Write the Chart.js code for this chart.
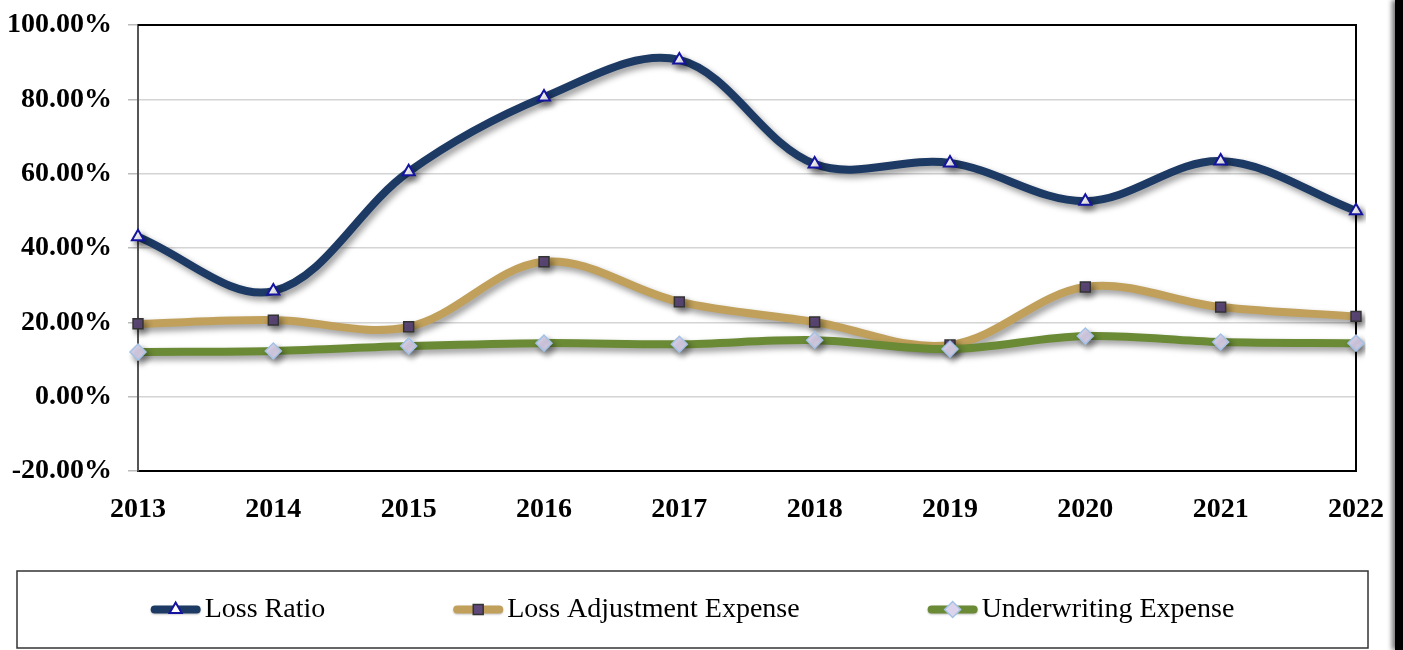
<!DOCTYPE html>
<html>
<head>
<meta charset="utf-8">
<script src="https://cdn.jsdelivr.net/npm/chart.js@4.4.1/dist/chart.umd.min.js"></script>
<style>
  body { margin: 0; background: #fff; }
  #wrap { position: relative; width: 1403px; height: 650px; }
  #edge { position: absolute; left: 1395px; top: 0; width: 8px; height: 650px; background: #000; box-shadow: -3px 0 5px rgba(0,0,0,0.55); }
</style>
</head>
<body>
<div id="wrap">
  <canvas id="chart"></canvas>
  <div id="edge"></div>
</div>
<script>
var years = ['2013', '2014', '2015', '2016', '2017', '2018', '2019', '2020', '2021', '2022'];
var lossRatio = [43.0, 28.4, 60.5, 80.6, 90.6, 62.6, 62.9, 52.6, 63.4, 50.0];
var lossAdjExpense = [19.6, 20.6, 18.8, 36.3, 25.5, 20.1, 13.9, 29.5, 24.1, 21.6];
var underwritingExpense = [12.0, 12.3, 13.6, 14.4, 14.1, 15.2, 12.8, 16.3, 14.7, 14.4];
var yTicks = [-20, 0, 20, 40, 60, 80, 100];

var serif = "'Liberation Serif', 'Times New Roman', serif";

// drop shadow under every series, like the office chart
var shadowPlugin = {
  id: 'shadow',
  beforeDatasetDraw: function(chart) {
    var ctx = chart.ctx;
    ctx.save();
    ctx.shadowColor = 'rgba(0,0,0,0.4)';
    ctx.shadowBlur = 6;
    ctx.shadowOffsetX = 3;
    ctx.shadowOffsetY = 4;
  },
  afterDatasetDraw: function(chart) {
    chart.ctx.restore();
  }
};

// top/right frame of the plot area and the boxed legend below
var framePlugin = {
  id: 'frame',
  beforeDatasetsDraw: function(chart) {
    var a = chart.chartArea, ctx = chart.ctx;
    ctx.save();
    ctx.strokeStyle = '#000';
    ctx.lineWidth = 2;
    ctx.beginPath();
    ctx.moveTo(a.left, a.top);
    ctx.lineTo(a.right, a.top);
    ctx.lineTo(a.right, a.bottom);
    ctx.stroke();
    ctx.restore();
  },
  afterDraw: function(chart) {
    var ctx = chart.ctx;
    var box = { x: 17, y: 571, w: 1351, h: 77 };
    ctx.save();
    ctx.strokeStyle = '#333';
    ctx.lineWidth = 1.5;
    ctx.strokeRect(box.x, box.y, box.w, box.h);

    ctx.font = '28px ' + serif;
    ctx.textBaseline = 'middle';
    var sw = 50, gapText = 4, gapItem = 128;
    var ds = chart.data.datasets;
    var widths = ds.map(function(d) { return sw + gapText + ctx.measureText(d.label).width; });
    var total = widths.reduce(function(a, b) { return a + b; }) + gapItem * (ds.length - 1);
    var x = box.x + box.w / 2 - total / 2;
    var cy = box.y + box.h / 2;
    ds.forEach(function(d, i) {
      ctx.save();
      ctx.shadowColor = 'rgba(0,0,0,0.25)';
      ctx.shadowBlur = 2;
      ctx.shadowOffsetY = 1;
      ctx.strokeStyle = d.borderColor;
      ctx.lineWidth = 8;
      ctx.lineCap = 'round';
      ctx.beginPath();
      ctx.moveTo(x + 4, cy);
      ctx.lineTo(x + sw - 4, cy);
      ctx.stroke();
      ctx.restore();
      ctx.fillStyle = d.pointBackgroundColor;
      ctx.strokeStyle = d.pointBorderColor;
      ctx.lineWidth = d.pointBorderWidth;
      Chart.helpers.drawPoint(ctx, {
        pointStyle: d.pointStyle,
        radius: d.pointRadius,
        borderWidth: d.pointBorderWidth,
        rotation: 0
      }, x + sw / 2, cy);
      ctx.fillStyle = '#000';
      ctx.fillText(d.label, x + sw + gapText, cy);
      x += widths[i] + gapItem;
    });
    ctx.restore();
  }
};

Chart.register(shadowPlugin, framePlugin);

var ctx = document.getElementById('chart').getContext('2d');
var chart = new Chart(ctx, {
  type: 'line',
  data: {
    labels: years,
    datasets: [{
      label: 'Loss Ratio',
      data: lossRatio,
      order: 2,
      borderColor: '#1c3a64',
      backgroundColor: '#1c3a64',
      pointStyle: 'triangle',
      pointRadius: 7,
      pointBorderWidth: 2,
      pointBackgroundColor: '#ffffff',
      pointBorderColor: '#1414a0'
    }, {
      label: 'Loss Adjustment Expense',
      data: lossAdjExpense,
      order: 1,
      borderColor: '#c0a05a',
      backgroundColor: '#c0a05a',
      pointStyle: 'rect',
      pointRadius: 7,
      pointBorderWidth: 1.5,
      pointBackgroundColor: '#5f497a',
      pointBorderColor: '#333333'
    }, {
      label: 'Underwriting Expense',
      data: underwritingExpense,
      order: 0,
      borderColor: '#6a8a35',
      backgroundColor: '#6a8a35',
      pointStyle: 'rectRot',
      pointRadius: 8,
      pointBorderWidth: 1.5,
      pointBackgroundColor: '#dcd4ec',
      pointBorderColor: '#a4c2e6'
    }]
  },
  options: {
    responsive: true,
    maintainAspectRatio: false,
    animation: false,
    layout: { padding: { left: 8, right: 47, top: 25, bottom: 119 } },
    elements: {
      line: { borderWidth: 8, tension: 0.35, borderCapStyle: 'round', fill: false },
      point: { hoverRadius: 8 }
    },
    plugins: {
      legend: { display: false },
      tooltip: { enabled: false }
    },
    scales: {
      x: {
        afterFit: function(scale) {
          scale.height = 60;
          scale.paddingLeft = 0;
          scale.paddingRight = 0;
        },
        grid: { display: false, drawTicks: true, tickLength: 10, tickColor: '#bbb' },
        border: { color: '#000', width: 2 },
        ticks: {
          color: '#000',
          padding: 12,
          maxRotation: 0,
          font: { family: serif, size: 28, weight: 'bold' }
        }
      },
      y: {
        min: yTicks[0],
        max: yTicks[yTicks.length - 1],
        afterFit: function(scale) {
          scale.width = 130;
          scale.paddingTop = 0;
          scale.paddingBottom = 0;
        },
        afterBuildTicks: function(scale) {
          scale.ticks = yTicks.map(function(v) { return { value: v }; });
        },
        grid: { color: '#d4d4d4', lineWidth: 1.5, tickLength: 10, tickColor: '#bbb' },
        border: { color: '#555', width: 2 },
        ticks: {
          color: '#000',
          padding: 16,
          font: { family: serif, size: 28, weight: 'bold' },
          callback: function(v) { return v.toFixed(2) + '%'; }
        }
      }
    }
  }
});
</script>
</body>
</html>
